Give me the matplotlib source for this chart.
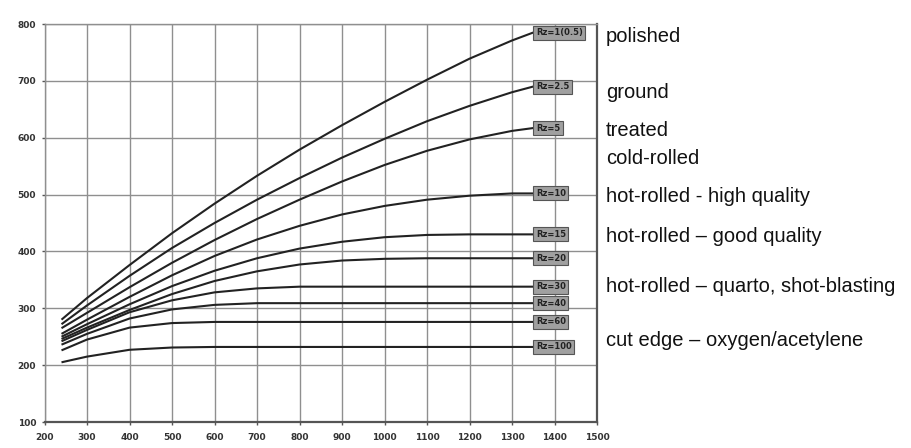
import matplotlib
matplotlib.use("Agg")
import matplotlib.pyplot as plt

# tensile strength grid (x) shared by all curves
strength = [240, 300, 400, 500, 600, 700, 800, 900, 1000, 1100, 1200, 1300, 1350]

# fatigue limit per surface roughness class
rz_labels = ["Rz=1(0.5)", "Rz=2.5", "Rz=5", "Rz=10", "Rz=15",
             "Rz=20", "Rz=30", "Rz=40", "Rz=60", "Rz=100"]
rz_1 = [280, 318, 376, 432, 484, 533, 579, 622, 663, 702, 739, 771, 785]
rz_2_5 = [272, 305, 357, 406, 450, 491, 529, 565, 598, 629, 656, 680, 690]
rz_5 = [265, 292, 337, 380, 420, 457, 491, 523, 552, 577, 597, 612, 617]
rz_10 = [255, 280, 320, 358, 392, 421, 445, 465, 480, 491, 498, 502, 502]
rz_15 = [250, 272, 307, 339, 366, 388, 405, 417, 425, 429, 430, 430, 430]
rz_20 = [246, 266, 297, 325, 348, 365, 377, 384, 387, 388, 388, 388, 388]
rz_30 = [242, 262, 293, 314, 328, 335, 338, 338, 338, 338, 338, 338, 338]
rz_40 = [236, 255, 282, 298, 306, 309, 309, 309, 309, 309, 309, 309, 309]
rz_60 = [226, 245, 266, 274, 276, 276, 276, 276, 276, 276, 276, 276, 276]
rz_100 = [205, 215, 227, 231, 232, 232, 232, 232, 232, 232, 232, 232, 232]
curves = [rz_1, rz_2_5, rz_5, rz_10, rz_15, rz_20, rz_30, rz_40, rz_60, rz_100]

# surface descriptions on the right (text, y in figure pixels from top)
surface_names = ["polished", "ground", "treated", "cold-rolled",
                 "hot-rolled - high quality", "hot-rolled \u2013 good quality",
                 "hot-rolled \u2013 quarto, shot-blasting",
                 "cut edge \u2013 oxygen/acetylene"]
surface_rows = [36, 92, 131, 158, 196, 236, 286, 340]

fig = plt.figure(figsize=(9.11, 4.48), dpi=100)
ax = fig.add_axes([44.5 / 911, 1 - 422 / 448, (597 - 44.5) / 911, (422 - 24) / 448])

for ys, lab in zip(curves, rz_labels):
    ax.plot(strength, ys, color="#222222", linewidth=1.5, solid_capstyle="butt")
    ax.text(strength[-1] + 6, ys[-1], lab, fontsize=6, fontweight="bold",
            color="#222222", ha="left", va="center",
            bbox=dict(boxstyle="square,pad=0.3", facecolor="#a0a0a0",
                      edgecolor="#555555", linewidth=0.8))

ax.set_xlim(200, 1500)
ax.set_ylim(100, 800)
ax.set_xticks(range(200, 1501, 100))
ax.set_yticks(range(100, 801, 100))
ax.grid(True, color="#8f8f8f", linewidth=1.0)
ax.set_axisbelow(True)
ax.tick_params(axis="both", length=2, width=1, color="#555555",
               labelsize=6.5, labelcolor="#333333", pad=4)
ax.tick_params(axis="x", pad=6)
for t in ax.get_xticklabels() + ax.get_yticklabels():
    t.set_fontweight("bold")
    t.set_family(["Liberation Sans Narrow", "DejaVu Sans"])
for side in ["left", "top"]:
    ax.spines[side].set_color("#8f8f8f")
    ax.spines[side].set_linewidth(1.0)
for side in ["right", "bottom"]:
    ax.spines[side].set_color("#555555")
    ax.spines[side].set_linewidth(1.6)

for name, row in zip(surface_names, surface_rows):
    fig.text(606 / 911, 1 - row / 448, name, fontsize=14.5,
             family=["Liberation Sans", "DejaVu Sans"],
             color="#111111", ha="left", va="center")

fig.savefig("out.png", dpi=100)
